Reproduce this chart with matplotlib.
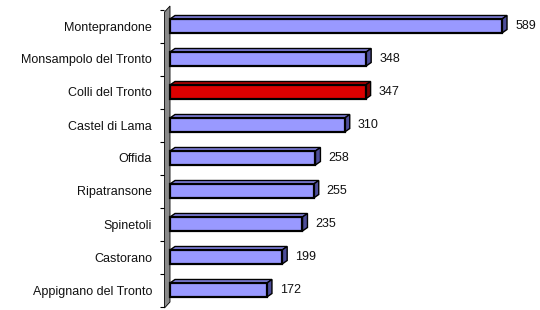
import numpy as np
import matplotlib.pyplot as plt
from matplotlib.patches import Polygon

plt.rcParams['font.family'] = ['Liberation Sans', 'DejaVu Sans']

comuni = ["Monteprandone", "Monsampolo del Tronto", "Colli del Tronto",
          "Castel di Lama", "Offida", "Ripatransone", "Spinetoli",
          "Castorano", "Appignano del Tronto"]
valori = [589, 348, 347, 310, 258, 255, 235, 199, 172]
evidenziato = "Colli del Tronto"

# pixel geometry of the reference (540x310)
px_per_unit = 0.5637      # x pixels per value unit
px_per_cat = 33.0         # y pixels per category
x0_px = 170.0             # pixel position of value 0
c0_px = 26.0              # pixel centre of the first bar
left_px = 164.0

fig = plt.figure(figsize=(5.4, 3.1), dpi=100)
ax = fig.add_axes([left_px / 540, 0, (540 - left_px) / 540, 1])
ax.set_xlim((left_px - x0_px) / px_per_unit, (540 - x0_px) / px_per_unit)
ax.set_ylim((310 - c0_px) / px_per_cat, (0 - c0_px) / px_per_cat)

y = np.arange(len(comuni))
h = 14 / px_per_cat
dx = 5 / px_per_unit
dy = 3.5 / px_per_cat

# grey back wall
wx = (left_px + 0.5 - x0_px) / px_per_unit
wdx = 5.5 / px_per_unit
wdy = 6 / px_per_cat
wt = (12 - c0_px) / px_per_cat
wb = (308 - c0_px) / px_per_cat
ax.add_patch(Polygon([(wx, wt), (wx, wb), (wx + wdx, wb - wdy), (wx + wdx, wt - wdy)],
                     closed=True, facecolor="#8a8a8a", edgecolor="black", lw=0.6, zorder=1))

for yi, v, nome in zip(y, valori, comuni):
    if nome == evidenziato:
        front, top, side = "#dd0000", "#b00000", "#7a0000"
    else:
        front, top, side = "#9999ff", "#7f7fdd", "#4d4d99"
    yt = yi - h / 2
    yb = yi + h / 2
    ax.add_patch(Polygon([(0, yt), (v, yt), (v + dx, yt - dy), (dx, yt - dy)],
                         closed=True, facecolor=top, edgecolor="black", lw=1.0, zorder=2))
    ax.add_patch(Polygon([(v, yt), (v + dx, yt - dy), (v + dx, yb - dy), (v, yb)],
                         closed=True, facecolor=side, edgecolor="black", lw=1.0, zorder=2))
    ax.barh(yi, v, height=h, left=0, color=front, edgecolor="black", linewidth=1.6, zorder=3)
    ax.text(v + 13 / px_per_unit, yi, str(v), ha="left", va="center",
            fontsize=9, color="#111111")

ax.set_yticks(y)
ax.set_yticklabels(comuni, fontsize=9, color="#111111")
ax.set_yticks(np.arange(-0.5, len(comuni)), minor=True)
ax.tick_params(axis="y", which="major", length=0, pad=8.5)
ax.tick_params(axis="y", which="minor", length=3, width=0.8, color="black")
ax.tick_params(axis="x", which="both", bottom=False, labelbottom=False)
for s in ax.spines.values():
    s.set_visible(False)

plt.savefig("out.png", dpi=100)
